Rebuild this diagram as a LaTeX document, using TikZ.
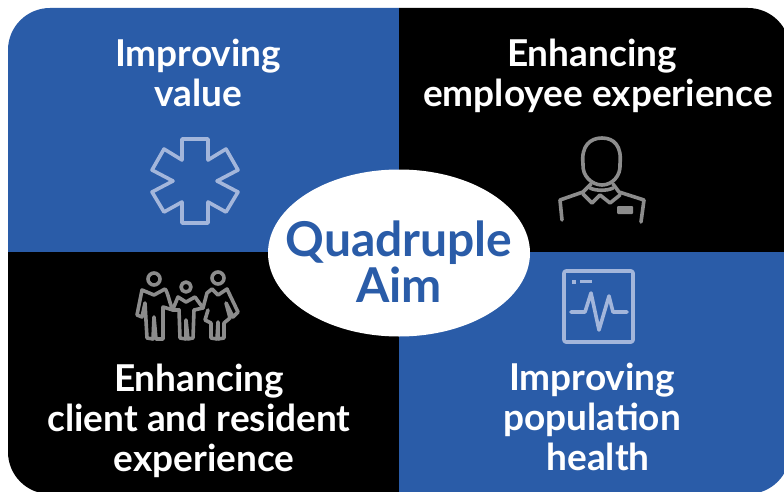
\documentclass[tikz,border=0pt]{standalone}
\usepackage{fontspec}
\setmainfont{Lato}[UprightFont=* Bold]
\usetikzlibrary{shapes.geometric}
\definecolor{aimblue}{HTML}{2A5CA8}
\definecolor{iconlight}{HTML}{A3B6DB}
\definecolor{icongray}{HTML}{8C8C8C}
\begin{document}
\begin{tikzpicture}[x=1pt,y=-1pt]
\tikzstyle{label}=[text=white, font=\fontsize{37}{40}\selectfont, align=center, inner sep=0pt]
\tikzstyle{aimtext}=[text=aimblue, font=\fontsize{48}{46}\selectfont, align=center, inner sep=0pt]
\tikzstyle{iconline}=[line width=3.6pt, line join=round, line cap=round]
\useasboundingbox (0,0) rectangle (784,492);
\fill[white] (0,0) rectangle (784,492);
\begin{scope}
\clip[rounded corners=42pt] (8,8) rectangle (790,494);
\fill[aimblue] (0,0) rectangle (399,252);
\fill[black] (399,0) rectangle (790,252);
\fill[black] (0,252) rectangle (399,494);
\fill[aimblue] (399,252) rectangle (790,494);
\end{scope}
\node[label] (value) at (198,73) {Improving\\value};
\node[label] (employee) at (598,76) {Enhancing\hspace*{12pt}\\employee experience};
\node[label] (client) at (199,421) {Enhancing\\client and resident\\\hspace*{10pt}experience};
\node[label] (health) at (592,417) {Improving\\population\\\hspace*{12pt}health};
\node[ellipse, fill=white, minimum width=262pt, minimum height=167pt, inner sep=0pt] (aim) at (399,253) {};
\node[aimtext] (aimlabel) at (399,262) {Quadruple\\Aim};
% star
\draw[iconline, iconlight] (182,139) -- (208,139) -- (208,160) -- (226,149) -- (238,170) -- (217,181) -- (238,192) -- (226,212) -- (208,202) -- (208,223) -- (182,223) -- (182,202) -- (164,212) -- (152,192) -- (173,181) -- (152,170) -- (164,149) -- (182,160) -- cycle;
% employee
\draw[iconline, icongray] (583,164) .. controls (581,146) and (590,138) .. (602,138) .. controls (614,138) and (622,146) .. (620,164) .. controls (621,176) and (612,185) .. (602,185) .. controls (592,185) and (582,176) .. (583,164) -- cycle;
\draw[iconline, icongray] (562,220) -- (560,200) -- (583,192) -- (591,184);
\draw[iconline, icongray] (641,222) -- (644,200) -- (619,192) -- (613,184);
\draw[iconline, icongray] (583,194) -- (592,203) -- (600,195) -- (610,203) -- (620,195);
\draw[iconline, icongray] (590,188) .. controls (596,191) and (607,191) .. (613,188);
\fill[icongray, rounded corners=1pt] (617,206) rectangle (633,214);
% family
\draw[iconline, icongray] (154,279) circle (6);
\draw[iconline, icongray] (186,287) circle (5);
\draw[iconline, icongray] (218,278) circle (6);
\draw[iconline, icongray] (173,309) .. controls (170,306) and (168,292) .. (165,289) -- (154,295) -- (142,290) -- (137,315) -- (142,317) -- (145,303) -- (147,338) -- (153,339) -- (154,317) -- (156,339) -- (163,339) -- (163,307) -- (173,310);
\draw[iconline, icongray] (173,309) -- (178,297) -- (186,302) -- (195,297) -- (203,308);
\draw[iconline, icongray] (179,310) -- (180,338) -- (186,339) -- (186,320) -- (188,339) -- (193,338) -- (194,310);
\draw[iconline, icongray] (173,310) -- (179,310);
\draw[iconline, icongray] (194,310) -- (203,308);
\draw[iconline, icongray] (203,308) -- (207,293) -- (212,289) -- (218,295) -- (227,289) -- (238,312) -- (233,317) -- (226,303) -- (230,318) -- (224,323) -- (224,338) -- (218,339) -- (218,322) -- (217,339) -- (211,338) -- (211,323) -- (205,320) -- (208,310);
% monitor
\draw[iconline, iconlight, rounded corners=2pt] (564,271) rectangle (633,342);
\fill[iconlight] (572,280) rectangle (576,284);
\fill[iconlight] (580,280) rectangle (592,283);
\draw[iconline, iconlight] (571,312) -- (585,312) -- (591,293) -- (599,330) -- (609,296) -- (613,312) -- (627,312);
\end{tikzpicture}
\end{document}
